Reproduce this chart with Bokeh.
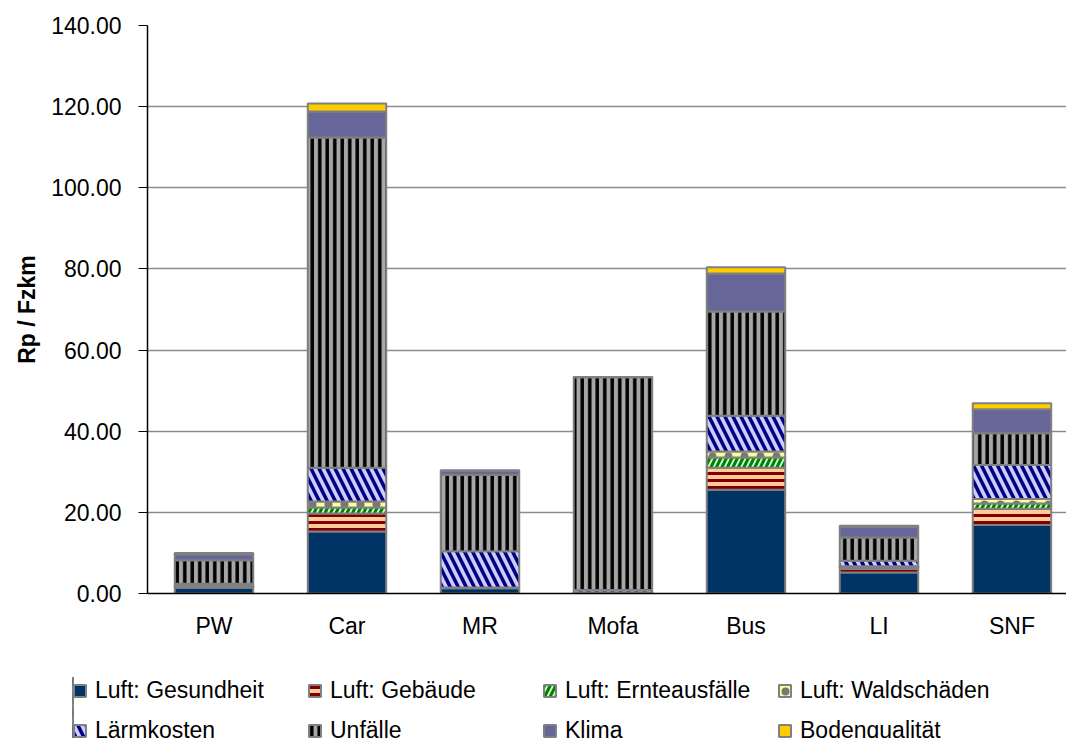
from bokeh.plotting import figure
from bokeh.layouts import column
from bokeh.models import Range1d, FixedTicker, NumeralTickFormatter, Legend, LegendItem
from bokeh.embed import file_html
from bokeh.resources import INLINE

categories = ["PW", "Car", "MR", "Mofa", "Bus", "LI", "SNF"]
gesundheit = [1.4, 15.3, 1.3, 0.2, 25.6, 5.2, 16.9]
gebaeude = [0.3, 4.4, 0.1, 0.05, 5.4, 0.9, 4.0]
ernte = [0.1, 1.5, 0.05, 0.02, 2.5, 0.3, 1.3]
wald = [0.1, 1.5, 0.05, 0.02, 1.5, 0.3, 1.1]
laerm = [0.5, 8.3, 8.9, 0.6, 8.8, 1.4, 8.4]
unfaelle = [5.8, 81.4, 18.9, 52.4, 25.7, 5.7, 7.8]
klima = [1.5, 6.4, 0.9, 0.1, 9.4, 2.6, 5.9]
boden = [0.3, 2.0, 0.2, 0.0, 1.5, 0.3, 1.5]

series_names = ["Luft: Gesundheit", "Luft: Gebäude", "Luft: Ernteausfälle", "Luft: Waldschäden",
                "Lärmkosten", "Unfälle", "Klima", "Bodenqualität"]
series_keys = ["gesundheit", "gebaeude", "ernte", "wald", "laerm", "unfaelle", "klima", "boden"]
y_ticks = [0, 20, 40, 60, 80, 100, 120, 140]

FONT = "Liberation Sans"
FS = "23px"

xpos = [i + 0.5 for i in range(len(categories))]
data = dict(x=xpos, gesundheit=gesundheit, gebaeude=gebaeude, ernte=ernte, wald=wald,
            laerm=laerm, unfaelle=unfaelle, klima=klima, boden=boden)

fills = ["#003366", "#FFCC99", "#CCFFCC", "#FFFF99", "#CCCCFF", "#A6A6A6", "#666699", "#FFCC00"]
hatches = [" ", "-", "/", ".", "\\", "|", " ", " "]
hatch_colors = ["#003366", "#800000", "#008000", "#777777", "#000080", "#000000", "#666699", "#FFCC00"]
hatch_scales = [8, 7, 11, 16, 16, 7.5, 8, 8]
hatch_weights = [1, 3, 3, 1.5, 3.5, 3.5, 1, 1]
style = dict(fill_color=fills, hatch_pattern=hatches, hatch_color=hatch_colors,
             hatch_scale=hatch_scales, hatch_weight=hatch_weights,
             line_color="#808080", line_width=2)

# ---- main chart ----
p = figure(width=1066, height=658, output_backend="svg", toolbar_location=None,
           x_range=Range1d(0, 6.91), y_range=Range1d(0, 140),
           min_border_left=147, min_border_right=0, min_border_top=25, min_border_bottom=65)
p.frame_align = False
p.outline_line_color = None
p.background_fill_color = "white"

renderers = p.vbar_stack(series_keys, x="x", width=0.59, source=data, **style)

p.xgrid.grid_line_color = None
p.ygrid.ticker = FixedTicker(ticks=y_ticks)
p.ygrid.grid_line_color = "#8C8C8C"
p.ygrid.grid_line_width = 1.5

p.yaxis.ticker = FixedTicker(ticks=y_ticks)
p.yaxis.formatter = NumeralTickFormatter(format="0.00")
p.yaxis.axis_line_color = "black"
p.yaxis.axis_line_width = 1.5
p.yaxis.major_tick_out = 9
p.yaxis.major_tick_in = 0
p.yaxis.major_tick_line_color = "black"
p.yaxis.minor_tick_line_color = None
p.yaxis.major_label_standoff = 17
p.yaxis.major_label_text_font = FONT
p.yaxis.major_label_text_font_size = FS
p.yaxis.major_label_text_color = "black"
p.yaxis.axis_label = "Rp / Fzkm"
p.yaxis.axis_label_text_font = FONT
p.yaxis.axis_label_text_font_size = "23px"
p.yaxis.axis_label_text_font_style = "bold"
p.yaxis.axis_label_text_color = "black"
p.yaxis.axis_label_standoff = 8

p.xaxis.ticker = FixedTicker(ticks=xpos)
p.xaxis.major_label_overrides = {x: c for x, c in zip(xpos, categories)}
p.xaxis.axis_line_color = "black"
p.xaxis.axis_line_width = 1.5
p.xaxis.major_tick_out = 0
p.xaxis.major_tick_in = 0
p.xaxis.minor_tick_line_color = None
p.xaxis.major_label_standoff = 19
p.xaxis.major_label_text_font = FONT
p.xaxis.major_label_text_font_size = FS
p.xaxis.major_label_text_color = "black"

# ---- legend strip (its bars lie outside its visible range; only the swatches show) ----
lg = figure(width=1066, height=80, output_backend="svg", toolbar_location=None,
            x_range=Range1d(100, 101), y_range=Range1d(0, 1),
            x_axis_location=None, y_axis_location=None,
            min_border_left=72, min_border_right=0, min_border_top=19, min_border_bottom=0)
lg.frame_align = False
lg.outline_line_color = None
lg.xgrid.grid_line_color = None
lg.ygrid.grid_line_color = None
lg_renderers = lg.vbar_stack(series_keys, x="x", width=0.5, source=data, **style)

items = [LegendItem(label=n, renderers=[r]) for n, r in zip(series_names, lg_renderers)]
legend = Legend(items=items, orientation="horizontal", ncols=4, location="top_left",
                glyph_width=15, glyph_height=15, label_standoff=8,
                label_width=199, label_height=22, spacing=13, padding=0, margin=0,
                border_line_color=None, background_fill_alpha=0,
                label_text_font=FONT, label_text_font_size=FS, label_text_color="black")
lg.add_layout(legend, "center")

layout = column(p, lg, spacing=0)
open("out.html", "w").write(file_html(layout, INLINE))
